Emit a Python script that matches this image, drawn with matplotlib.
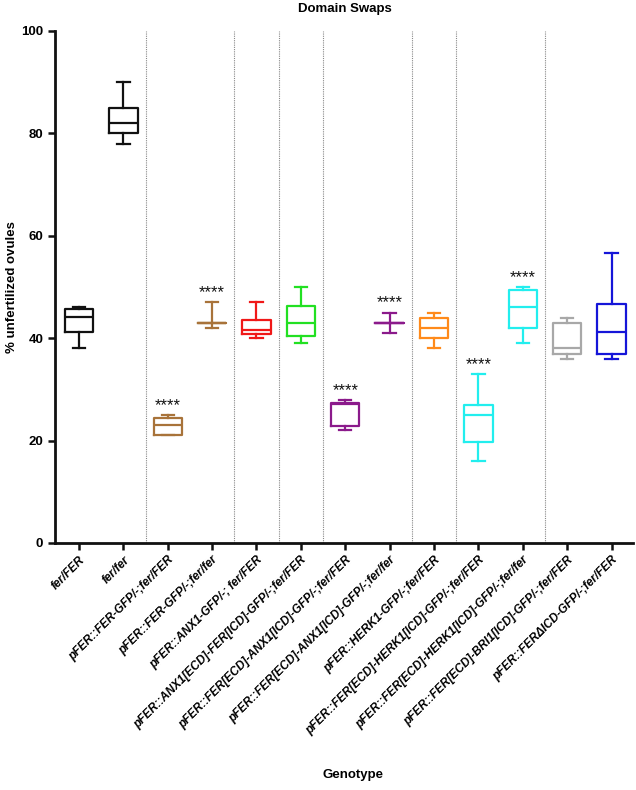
import matplotlib
matplotlib.use("Agg")
import matplotlib.pyplot as plt

genotypes = [
    "fer/FER",
    "fer/fer",
    "pFER::FER-GFP/-;fer/FER",
    "pFER::FER-GFP/-;fer/fer",
    "pFER::ANX1-GFP/-; fer/FER",
    "pFER::ANX1[ECD]-FER[ICD]-GFP/-;fer/FER",
    "pFER::FER[ECD]-ANX1[ICD]-GFP/-;fer/FER",
    "pFER::FER[ECD]-ANX1[ICD]-GFP/-;fer/fer",
    "pFER::HERK1-GFP/-;fer/FER",
    "pFER::FER[ECD]-HERK1[ICD]-GFP/-;fer/FER",
    "pFER::FER[ECD]-HERK1[ICD]-GFP/-;fer/fer",
    "pFER::FER[ECD]-BRI1[ICD]-GFP/-;fer/FER",
    "pFER::FER\u0394ICD-GFP/-;fer/FER",
]
whisker_low = [38, 78, 21, 42, 40, 39, 22, 41, 38, 16, 39, 36, 36]
q1 = [41.2, 80, 21, 43, 40.9, 40.4, 22.8, 43, 40, 19.7, 42, 36.9, 36.9]
median = [44.1, 82, 23, 43, 41.5, 42.9, 27.1, 43, 42, 25, 46, 38, 41.2]
q3 = [45.7, 85, 24.4, 43, 43.5, 46.2, 27.4, 43, 44, 27, 49.5, 42.9, 46.6]
whisker_high = [46, 90, 25, 47, 47, 50, 27.9, 45, 45, 33, 50, 44, 56.7]
colors = ["#111111", "#111111", "#A8733A", "#A8733A", "#F01818", "#22E022",
          "#8B1A8B", "#8B1A8B", "#FF8A1A", "#22EEEE", "#22EEEE", "#A8A8A8", "#1515D8"]
significant = [False, False, True, True, False, False, True, True, False, True, True, False, False]
separators = [2.5, 4.5, 5.5, 6.5, 8.5, 9.5, 11.5]

fig = plt.figure(figsize=(6.36, 7.90), dpi=100)
ax = fig.add_axes([0.0865, 0.3127, 0.9085, 0.6481])

positions = list(range(1, len(genotypes) + 1))
for i, pos in enumerate(positions):
    st = [dict(whislo=whisker_low[i], q1=q1[i], med=median[i], q3=q3[i],
               whishi=whisker_high[i], fliers=[], label=genotypes[i])]
    c = colors[i]
    lw = 1.6
    ax.bxp(st, positions=[pos], widths=0.64, showfliers=False,
           boxprops=dict(color=c, linewidth=lw),
           medianprops=dict(color=c, linewidth=lw),
           whiskerprops=dict(color=c, linewidth=lw),
           capprops=dict(color=c, linewidth=lw),
           capwidths=0.28, manage_ticks=False)
    if significant[i]:
        ax.text(pos, whisker_high[i] + 0.4, "****", ha="center", va="bottom",
                fontsize=12, color="#111111", family="Liberation Sans")

for s in separators:
    ax.axvline(s, color="#888888", linestyle=(0, (1, 1)), linewidth=0.8, zorder=0)

ax.set_xlim(0.46, 13.48)
ax.set_ylim(0, 100)
ax.set_yticks([0, 20, 40, 60, 80, 100])
ax.set_xticks(positions)
ax.set_xticklabels(genotypes, rotation=45, ha="right", rotation_mode="anchor",
                   fontsize=8.5, fontstyle="italic", fontweight="bold",
                   family="Liberation Sans")
for lab in ax.get_yticklabels():
    lab.set_fontweight("bold")
    lab.set_family("Liberation Sans")
    lab.set_fontsize(9.5)
ax.tick_params(axis="both", width=1.8, length=5, color="#111111")
ax.tick_params(axis="x", pad=3)
for sp in ["top", "right"]:
    ax.spines[sp].set_visible(False)
for sp in ["left", "bottom"]:
    ax.spines[sp].set_linewidth(2)
    ax.spines[sp].set_color("#111111")

ax.set_ylabel("% unfertilized ovules", fontsize=9.5, fontweight="bold",
              family="Liberation Sans")
ax.yaxis.set_label_coords(-0.064, 0.5)
fig.text(0.555, 0.019, "Genotype", ha="center", va="center", fontsize=9.5,
         fontweight="bold", family="Liberation Sans")
fig.text(0.543, 0.989, "Domain Swaps", ha="center", va="center", fontsize=9.5,
         fontweight="bold", family="Liberation Sans")

fig.savefig("out.png", dpi=100)
